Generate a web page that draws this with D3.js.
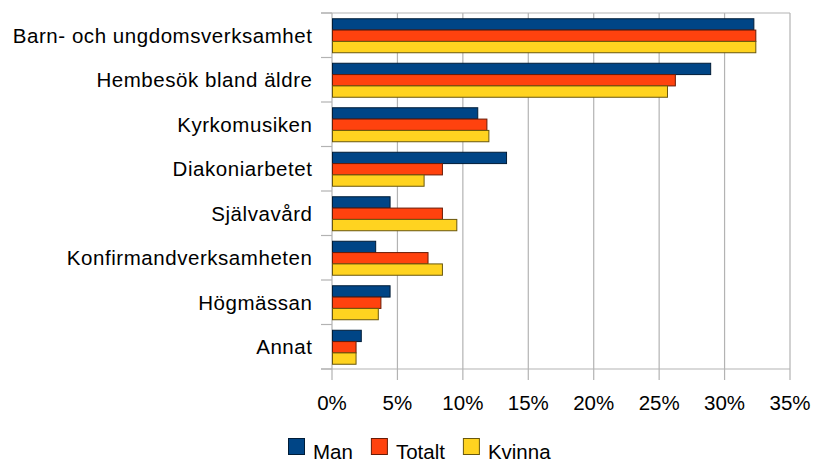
<!DOCTYPE html>
<html>
<head>
<meta charset="utf-8">
<script src="https://cdn.jsdelivr.net/npm/d3@7"></script>
<style>
  body { margin: 0; background: #fff; }
  svg { display: block; font-family: "Liberation Sans", Arial, sans-serif; }
</style>
</head>
<body>
<svg id="chart" width="813" height="462"></svg>
<script>
const categories = [
  "Barn- och ungdomsverksamhet",
  "Hembesök bland äldre",
  "Kyrkomusiken",
  "Diakoniarbetet",
  "Självavård",
  "Konfirmandverksamheten",
  "Högmässan",
  "Annat"
];
const seriesNames = ["Man", "Totalt", "Kvinna"];
const man    = [32.2, 28.9, 11.1, 13.3, 4.4, 3.3, 4.4, 2.2];
const totalt = [32.35, 26.2, 11.8, 8.4, 8.4, 7.3, 3.7, 1.8];
const kvinna = [32.35, 25.6, 11.95, 7.0, 9.5, 8.4, 3.5, 1.8];
const xTicks = [0, 5, 10, 15, 20, 25, 30, 35];
const colors = ["#004586", "#ff420e", "#ffd320"];

const values = [man, totalt, kvinna];
const rows = categories.map((c, i) => ({
  label: c,
  vals: seriesNames.map((s, j) => ({ key: s, value: values[j][i], color: colors[j] }))
}));

const svg = d3.select("#chart");
const plot = { left: 332, right: 790, top: 13, bottom: 369 };
const gridColor = "#b3b3b3";

const x = d3.scaleLinear().domain([0, 35]).range([plot.left, plot.right]);
const y = d3.scaleBand().domain(categories).range([plot.top, plot.bottom])
  .paddingInner(0.236).paddingOuter(0.118);
const ySub = d3.scaleBand().domain(seriesNames).range([0, y.bandwidth()]);
const step = y.step();

// vertical gridlines
svg.append("g").selectAll("line")
  .data(xTicks)
  .join("line")
    .attr("x1", d => x(d)).attr("x2", d => x(d))
    .attr("y1", plot.top).attr("y2", plot.bottom + 11)
    .attr("stroke", gridColor).attr("stroke-width", 1.2);

// top border line
svg.append("line")
  .attr("x1", plot.left - 11).attr("x2", plot.right)
  .attr("y1", plot.top).attr("y2", plot.top)
  .attr("stroke", gridColor).attr("stroke-width", 1.2);

// bottom axis line
svg.append("line")
  .attr("x1", plot.left - 11).attr("x2", plot.right)
  .attr("y1", plot.bottom).attr("y2", plot.bottom)
  .attr("stroke", gridColor).attr("stroke-width", 1.2);

// category ticks at band boundaries
svg.append("g").selectAll("line")
  .data(d3.range(categories.length + 1))
  .join("line")
    .attr("x1", plot.left - 11).attr("x2", plot.left)
    .attr("y1", i => plot.top + i * step).attr("y2", i => plot.top + i * step)
    .attr("stroke", gridColor).attr("stroke-width", 1.2);

// bars
const groups = svg.append("g").selectAll("g")
  .data(rows)
  .join("g")
    .attr("transform", d => `translate(0,${y(d.label)})`);

groups.selectAll("rect")
  .data(d => d.vals)
  .join("rect")
    .attr("x", x(0) + 0.5)
    .attr("y", d => ySub(d.key) + 0.5)
    .attr("width", d => x(d.value) - x(0))
    .attr("height", ySub.bandwidth())
    .attr("fill", d => d.color)
    .attr("stroke", d => d3.color(d.color).darker(2.5))
    .attr("stroke-width", 1);

// category labels
svg.append("g").selectAll("text")
  .data(categories)
  .join("text")
    .attr("x", 312.5)
    .attr("y", d => y(d) + y.bandwidth() / 2 + 7.5)
    .attr("text-anchor", "end")
    .attr("font-size", "20.5px")
    .attr("letter-spacing", "0.55px")
    .attr("fill", "#000")
    .text(d => d);

// x tick labels
svg.append("g").selectAll("text")
  .data(xTicks)
  .join("text")
    .attr("x", d => x(d))
    .attr("y", 410)
    .attr("text-anchor", "middle")
    .attr("font-size", "20.5px")
    .attr("fill", "#000")
    .text(d => d + "%");

// legend
const legend = svg.append("g");
let lx = 288;
seriesNames.forEach((s, i) => {
  legend.append("rect")
    .attr("x", lx + 0.5).attr("y", 438.5)
    .attr("width", 16).attr("height", 16)
    .attr("fill", colors[i])
    .attr("stroke", d3.color(colors[i]).darker(2.5));
  const t = legend.append("text")
    .attr("x", lx + 25).attr("y", 459)
    .attr("font-size", "20.5px")
    .attr("fill", "#000")
    .text(s);
  lx += 25 + t.node().getComputedTextLength() + 18;
});
</script>
</body>
</html>
